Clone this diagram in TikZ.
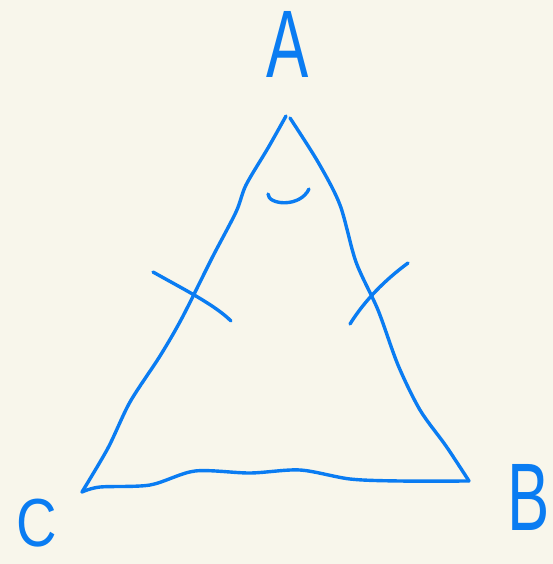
\documentclass[tikz,border=0pt]{standalone}
\usepackage{fontspec}
\setmainfont{Liberation Sans}
\usetikzlibrary{positioning, calc}
\definecolor{inkBlue}{HTML}{0A7CF2}
\definecolor{paperCream}{HTML}{F8F6EB}

\begin{document}
\begin{tikzpicture}[
    x=1pt, y=-1pt,
    penLine/.style={draw=inkBlue, line width=3.4pt, line cap=round, line join=round},
    penLetter/.style={text=inkBlue, font=\fontsize{96}{96}\selectfont, inner sep=0pt, xscale=0.66},
]
\fill[paperCream] (0,0) rectangle (553,564);
\useasboundingbox (0,0) rectangle (553,564);
% vertices
\coordinate (apex) at (286,116);
\coordinate (left) at (82,492);
\coordinate (right) at (469,481);
% labels
\node[penLetter] (labA) at (288,44) {A};
\node[penLetter] (labB) at (529,497) {B};
\node[penLetter, font=\fontsize{68}{68}\selectfont, xscale=1.25] (labC) at (37,523) {C};
% sides
\draw[penLine] plot[smooth, tension=0.5] coordinates {(apex) (268,148) (246,185) (236,212) (212,258) (182,318) (160,356) (130,402) (108,448) (82,492)};
\draw[penLine] plot[smooth, tension=0.5] coordinates {(290,118) (318,162) (340,205) (356,262) (378,310) (398,365) (420,410) (446,446) (right)};
\draw[penLine] plot[smooth, tension=0.5] coordinates {(left) (100,487) (150,485) (195,471) (250,473) (300,470) (350,479) (400,481) (right)};
% equal-side ticks
\draw[penLine] (153,272) .. controls (185,290) and (215,305) .. (231,321);
\draw[penLine] (408,263) .. controls (385,280) and (365,300) .. (350,324);
% apex angle
\draw[penLine] (268,194) .. controls (268,205) and (300,208) .. (309,189);
\end{tikzpicture}
\end{document}
